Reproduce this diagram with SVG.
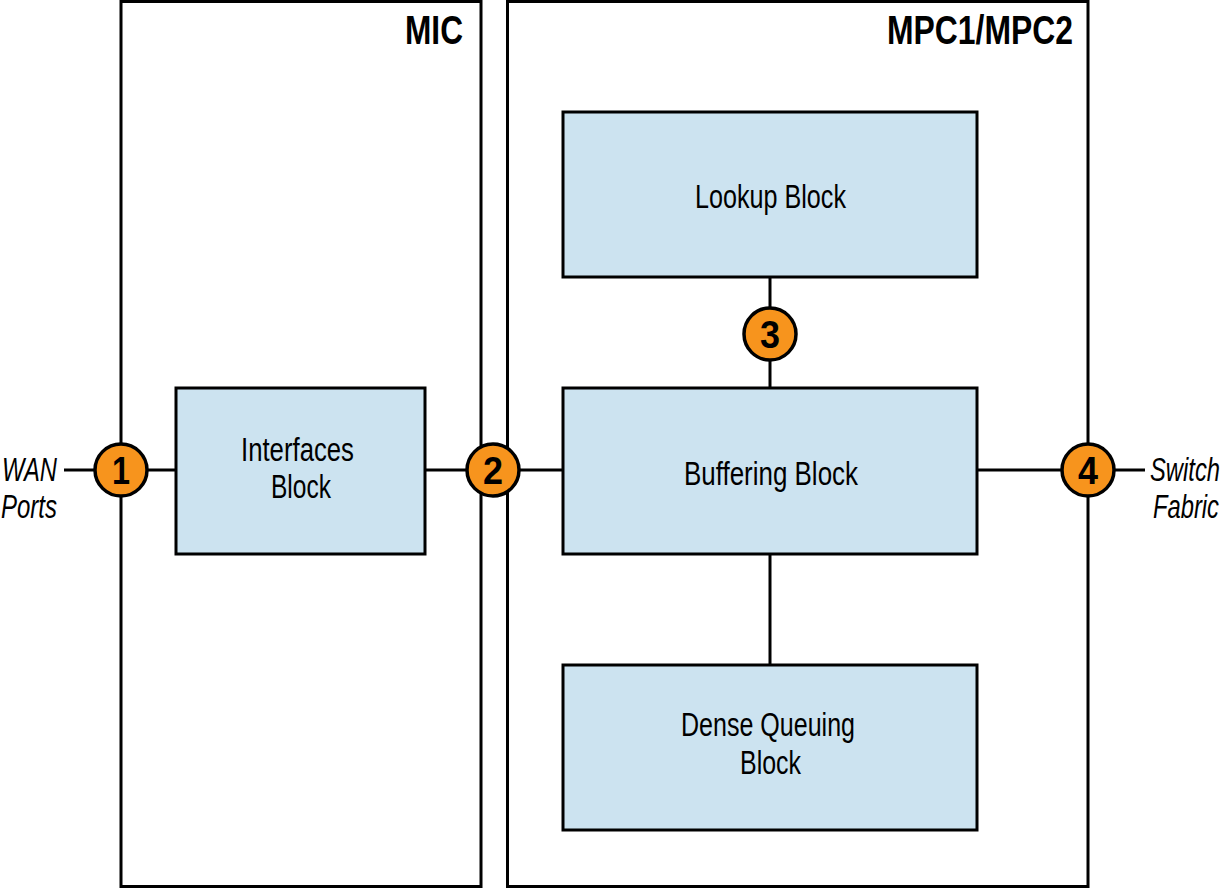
<svg xmlns="http://www.w3.org/2000/svg" width="1224" height="888" viewBox="0 0 1224 888">
<style>
.frame{fill:#fff;stroke:#000;stroke-width:3}
.blk{fill:#cce3f0;stroke:#000;stroke-width:3}
.ln{stroke:#000;stroke-width:3;fill:none}
.dot{fill:#f7941d;stroke:#000;stroke-width:3.5}
.t{font-family:"Liberation Sans",Arial,sans-serif;font-size:33px;fill:#000}
.h{font-family:"Liberation Sans",Arial,sans-serif;font-size:41px;font-weight:bold;fill:#000}
.n{font-family:"Liberation Sans",Arial,sans-serif;font-size:38px;font-weight:bold;fill:#000;text-anchor:middle}
.i{font-family:"Liberation Sans",Arial,sans-serif;font-size:33px;font-style:italic;fill:#000}
.e{text-anchor:end}
</style>
<rect width="1224" height="888" fill="#fff"/>
<g id="mic">
<rect class="frame" x="121" y="1.5" width="360" height="885"/>
<text class="h" x="405" y="44" textLength="58" lengthAdjust="spacingAndGlyphs">MIC</text>
</g>
<g id="mpc">
<rect class="frame" x="507.5" y="1.5" width="580.5" height="885"/>
<text class="h" x="887" y="44" textLength="186" lengthAdjust="spacingAndGlyphs">MPC1/MPC2</text>
</g>
<g id="connectors">
<line class="ln" x1="64" y1="470" x2="176" y2="470"/>
<line class="ln" x1="425" y1="470" x2="563" y2="470"/>
<line class="ln" x1="770" y1="277" x2="770" y2="388"/>
<line class="ln" x1="770" y1="554" x2="770" y2="665"/>
<line class="ln" x1="977" y1="470" x2="1145" y2="470"/>
</g>
<g id="interfaces">
<rect class="blk" x="176" y="388" width="249" height="166"/>
<text class="t" x="241" y="461" textLength="113" lengthAdjust="spacingAndGlyphs">Interfaces</text>
<text class="t" x="271" y="498" textLength="60" lengthAdjust="spacingAndGlyphs">Block</text>
</g>
<g id="lookup">
<rect class="blk" x="563" y="112" width="414" height="165"/>
<text class="t" x="695" y="208" textLength="151" lengthAdjust="spacingAndGlyphs">Lookup Block</text>
</g>
<g id="buffering">
<rect class="blk" x="563" y="388" width="414" height="166"/>
<text class="t" x="684" y="485" textLength="174" lengthAdjust="spacingAndGlyphs">Buffering Block</text>
</g>
<g id="dense">
<rect class="blk" x="563" y="665" width="414" height="165"/>
<text class="t" x="681" y="736" textLength="174" lengthAdjust="spacingAndGlyphs">Dense Queuing</text>
<text class="t" x="740" y="774" textLength="61" lengthAdjust="spacingAndGlyphs">Block</text>
</g>
<g id="wan">
<text class="i" x="2" y="481" textLength="55" lengthAdjust="spacingAndGlyphs">WAN</text>
<text class="i" x="1" y="518" textLength="56" lengthAdjust="spacingAndGlyphs">Ports</text>
</g>
<g id="fabric">
<text class="i e" transform="matrix(0.72,0,0,1,1220,481)" x="0" y="0">Switch</text>
<text class="i e" transform="matrix(0.72,0,0,1,1219,518)" x="0" y="0">Fabric</text>
</g>
<g id="p1"><circle class="dot" cx="121" cy="470" r="26"/><text class="n" x="121" y="484" textLength="18" lengthAdjust="spacingAndGlyphs">1</text></g>
<g id="p2"><circle class="dot" cx="493" cy="470" r="26"/><text class="n" x="493" y="484" textLength="20" lengthAdjust="spacingAndGlyphs">2</text></g>
<g id="p3"><circle class="dot" cx="770" cy="334" r="26"/><text class="n" x="770" y="348" textLength="20" lengthAdjust="spacingAndGlyphs">3</text></g>
<g id="p4"><circle class="dot" cx="1088" cy="470" r="26"/><text class="n" x="1088" y="484" textLength="20" lengthAdjust="spacingAndGlyphs">4</text></g>
</svg>
